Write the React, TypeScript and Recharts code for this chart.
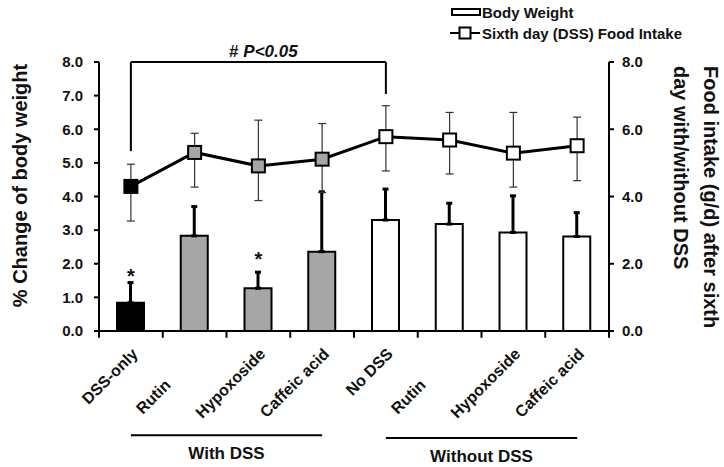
import React from 'react';
import {
  ComposedChart,
  Bar,
  Line,
  XAxis,
  YAxis,
  ErrorBar,
  Cell,
  ReferenceLine,
  ReferenceDot,
  Label,
  Legend,
} from 'recharts';

const FONT = '"Liberation Sans", Arial, Helvetica, sans-serif';

const groupKeys = [
  'DSS-only',
  'Rutin + DSS',
  'Hypoxoside + DSS',
  'Caffeic acid + DSS',
  'No DSS',
  'Rutin',
  'Hypoxoside',
  'Caffeic acid',
];
const tickLabels = [
  'DSS-only',
  'Rutin',
  'Hypoxoside',
  'Caffeic acid',
  'No DSS',
  'Rutin',
  'Hypoxoside',
  'Caffeic acid',
];
const groupType = ['dssOnly', 'withDss', 'withDss', 'withDss', 'noDss', 'noDss', 'noDss', 'noDss'];

const bodyWeight = [0.84, 2.83, 1.27, 2.36, 3.3, 3.18, 2.93, 2.81];
const bodyWeightErr = [0.6, 0.87, 0.48, 1.78, 0.92, 0.62, 1.09, 0.71];

const foodIntake = [4.3, 5.31, 4.91, 5.11, 5.78, 5.68, 5.29, 5.51];
const foodErrLow = [1.03, 1.03, 1.03, 0.99, 1.02, 1.01, 1.01, 1.04];
const foodErrHigh = [0.66, 0.57, 1.36, 1.06, 0.92, 0.82, 1.21, 0.85];

const leftTicks = [0, 1, 2, 3, 4, 5, 6, 7, 8];
const rightTicks = [0, 2, 4, 6, 8];

const significance = [
  { key: 'DSS-only', y: 1.63 },
  { key: 'Hypoxoside + DSS', y: 2.14 },
];

const bracket = { from: 'DSS-only', to: 'No DSS', top: 8, leftDrop: 5.35, rightDrop: 7.05, text: 'P<0.05' };

const groupSpans = [
  { from: 'DSS-only', to: 'Caffeic acid + DSS', y: -3.1, label: 'With DSS' },
  { from: 'No DSS', to: 'Caffeic acid', y: -3.18, label: 'Without DSS' },
];

const boundaryTickDepth = -0.2;

const fillFor: Record<string, string> = {
  dssOnly: '#000000',
  withDss: '#a6a6a6',
  noDss: '#ffffff',
};

const data = groupKeys.map((k, i) => ({
  key: k,
  bw: bodyWeight[i],
  bwErr: [0, bodyWeightErr[i]],
  food: foodIntake[i],
  foodErr: [foodErrLow[i], foodErrHigh[i]],
}));

const XTick = (props: any) => {
  const { x, y, payload } = props;
  const idx = typeof props.index === 'number' ? props.index : payload.index;
  const label = tickLabels[idx];
  const shift = label === 'Rutin' ? 31 : 0;
  const ax = x + 8 - shift;
  const ay = y + 24 + shift;
  return (
    <text
      x={ax}
      y={ay}
      transform={`rotate(-45 ${ax} ${ay})`}
      textAnchor="end"
      fontSize={16}
      fontWeight="bold"
      fontFamily={FONT}
      fill="#111"
    >
      {label}
    </text>
  );
};

const SquareDot = (props: any) => {
  const { cx, cy, index } = props;
  if (cx == null || cy == null) return null;
  return (
    <rect
      key={`sq-${index}`}
      x={cx - 6.5}
      y={cy - 6.5}
      width={13}
      height={13}
      fill={fillFor[groupType[index]]}
      stroke="#000"
      strokeWidth={2}
    />
  );
};

const LeftTitle = (p: any) => {
  const vb = p.viewBox;
  const x = vb.x + 27;
  const y = vb.y + vb.height / 2 - 11;
  return (
    <text x={x} y={y} transform={`rotate(-90 ${x} ${y})`} textAnchor="middle" fontSize={20} fontWeight="bold" fontFamily={FONT} fill="#111">
      % Change of body weight
    </text>
  );
};

const RightTitle = (p: any) => {
  const vb = p.viewBox;
  const x1 = vb.x + 95;
  const x2 = vb.x + 65;
  const y = vb.y + 4;
  return (
    <g>
      <text x={x1} y={y} transform={`rotate(90 ${x1} ${y})`} textAnchor="start" fontSize={20} fontWeight="bold" fontFamily={FONT} fill="#111">
        Food intake (g/d) after sixth
      </text>
      <text x={x2} y={y} transform={`rotate(90 ${x2} ${y})`} textAnchor="start" fontSize={20} fontWeight="bold" fontFamily={FONT} fill="#111">
        day with/without DSS
      </text>
    </g>
  );
};

const SigLabel = (p: any) => {
  const vb = p.viewBox;
  const cx = vb.x + vb.width / 2 + 5;
  const y = vb.y - 5;
  return (
    <text x={cx} y={y} textAnchor="middle" fontSize={17} fontWeight="bold" fontFamily={FONT} fill="#111">
      <tspan>#</tspan>
      <tspan fontStyle="italic"> {bracket.text}</tspan>
    </text>
  );
};

const LegendContent = () => (
  <svg width={270} height={45} style={{ display: 'block' }}>
    <rect x={7} y={9} width={28} height={6} fill="#fff" stroke="#000" strokeWidth={2} />
    <text x={37} y={18} fontSize={15} fontWeight="bold" fontFamily={FONT} fill="#111">
      Body Weight
    </text>
    <line x1={5} x2={35} y1={33} y2={33} stroke="#000" strokeWidth={2} />
    <rect x={14.5} y={27.5} width={11} height={11} fill="#fff" stroke="#000" strokeWidth={2} />
    <text x={37} y={39} fontSize={15} fontWeight="bold" fontFamily={FONT} fill="#111">
      Sixth day (DSS) Food Intake
    </text>
  </svg>
);

const tickStyle = { fontSize: 15, fontWeight: 'bold', fill: '#111', fontFamily: FONT };

export default function App() {
  return (
    <div style={{ position: 'absolute', left: 0, top: 0, width: 724, height: 467, background: '#fff', fontFamily: FONT }}>
      <ComposedChart width={724} height={467} data={data} margin={{ top: 62, right: 0, bottom: 0, left: 0 }} style={{ fontFamily: FONT }}>
        <XAxis
          xAxisId="cat"
          dataKey="key"
          type="category"
          interval={0}
          height={136}
          tickSize={0}
          tickMargin={0}
          axisLine={{ stroke: '#000', strokeWidth: 2 }}
          tickLine={false}
          tick={<XTick />}
        />
        <YAxis
          yAxisId="left"
          orientation="left"
          width={99}
          domain={[0, 8]}
          ticks={leftTicks}
          tickFormatter={(v: number) => v.toFixed(1)}
          tick={tickStyle}
          tickSize={5}
          tickMargin={11}
          axisLine={{ stroke: '#000', strokeWidth: 2 }}
          tickLine={{ stroke: '#000', strokeWidth: 2 }}
          allowDataOverflow
        >
          <Label content={<LeftTitle />} />
        </YAxis>
        <YAxis
          yAxisId="right"
          orientation="right"
          width={115}
          domain={[0, 8]}
          ticks={rightTicks}
          tickFormatter={(v: number) => v.toFixed(1)}
          tick={tickStyle}
          tickSize={5}
          tickMargin={8}
          axisLine={{ stroke: '#000', strokeWidth: 2 }}
          tickLine={{ stroke: '#000', strokeWidth: 2 }}
          allowDataOverflow
        >
          <Label content={<RightTitle />} />
        </YAxis>

        <Legend
          layout="horizontal"
          verticalAlign="middle"
          align="center"
          wrapperStyle={{ position: 'absolute', left: 445, top: 0, width: 270, height: 45 }}
          content={<LegendContent />}
        />

        <Bar xAxisId="cat" yAxisId="left" dataKey="bw" name="Body Weight" barSize={27} stroke="#000" strokeWidth={2} isAnimationActive={false}>
          {data.map((d, i) => (
            <Cell key={d.key} fill={fillFor[groupType[i]]} />
          ))}
          <ErrorBar dataKey="bwErr" width={3} stroke="#000" strokeWidth={3} direction="y" />
        </Bar>

        <Line
          xAxisId="cat"
          yAxisId="right"
          dataKey="food"
          name="Sixth day (DSS) Food Intake"
          stroke="#000"
          strokeWidth={3}
          dot={<SquareDot />}
          activeDot={false}
          isAnimationActive={false}
        >
          <ErrorBar dataKey="foodErr" width={4} stroke="#333" strokeWidth={1.2} direction="y" />
        </Line>

        {groupKeys.map((k) => (
          <ReferenceLine
            key={`tick-${k}`}
            xAxisId="cat"
            yAxisId="left"
            position="start"
            segment={[
              { x: k, y: 0 },
              { x: k, y: boundaryTickDepth },
            ]}
            stroke="#000"
            strokeWidth={2}
            ifOverflow="visible"
          />
        ))}
        <ReferenceLine
          xAxisId="cat"
          yAxisId="left"
          position="end"
          segment={[
            { x: groupKeys[groupKeys.length - 1], y: 0 },
            { x: groupKeys[groupKeys.length - 1], y: boundaryTickDepth },
          ]}
          stroke="#000"
          strokeWidth={2}
          ifOverflow="visible"
        />

        <ReferenceLine
          xAxisId="cat"
          yAxisId="left"
          segment={[
            { x: bracket.from, y: bracket.top },
            { x: bracket.to, y: bracket.top },
          ]}
          stroke="#000"
          strokeWidth={2}
          ifOverflow="visible"
        >
          <Label content={<SigLabel />} />
        </ReferenceLine>
        <ReferenceLine
          xAxisId="cat"
          yAxisId="left"
          segment={[
            { x: bracket.from, y: bracket.top },
            { x: bracket.from, y: bracket.leftDrop },
          ]}
          stroke="#000"
          strokeWidth={2}
          ifOverflow="visible"
        />
        <ReferenceLine
          xAxisId="cat"
          yAxisId="left"
          segment={[
            { x: bracket.to, y: bracket.top },
            { x: bracket.to, y: bracket.rightDrop },
          ]}
          stroke="#000"
          strokeWidth={2}
          ifOverflow="visible"
        />

        {groupSpans.map((g) => (
          <ReferenceLine
            key={g.label}
            xAxisId="cat"
            yAxisId="left"
            segment={[
              { x: g.from, y: g.y },
              { x: g.to, y: g.y },
            ]}
            stroke="#000"
            strokeWidth={2}
            ifOverflow="visible"
          >
            <Label value={g.label} position="bottom" offset={12} fontSize={17} fontWeight="bold" fontFamily={FONT} fill="#111" />
          </ReferenceLine>
        ))}

        {significance.map((s) => (
          <ReferenceDot key={s.key} xAxisId="cat" yAxisId="left" x={s.key} y={s.y} r={0} fill="none" stroke="none" ifOverflow="visible">
            <Label value="*" position="center" fontSize={20} fontWeight="bold" fontFamily={FONT} fill="#111" />
          </ReferenceDot>
        ))}
      </ComposedChart>
    </div>
  );
}
